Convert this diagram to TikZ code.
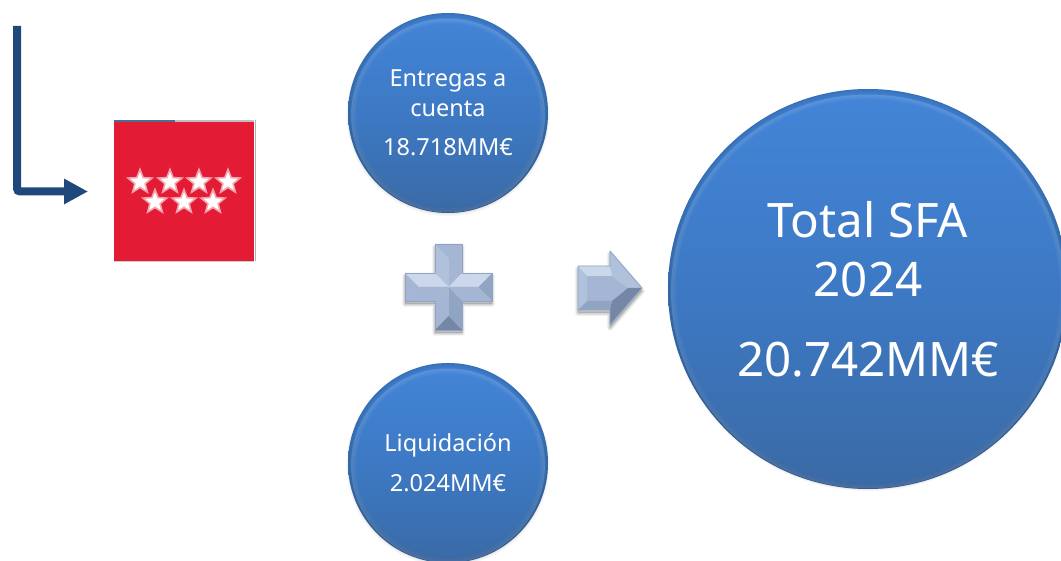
\documentclass[tikz,border=0pt]{standalone}
\usepackage{fontspec}
\setmainfont{Noto Sans}
\usetikzlibrary{shapes.geometric,arrows.meta,calc}
\definecolor{ballTop}{HTML}{4385D8}
\definecolor{ballMid}{HTML}{3D79C4}
\definecolor{ballBot}{HTML}{3A6AA6}
\definecolor{navy}{HTML}{1F497D}
\definecolor{redbox}{HTML}{E31B35}
\definecolor{facetA}{HTML}{CBD7EB}
\definecolor{facetB}{HTML}{B0C1DC}
\definecolor{facetC}{HTML}{A4B6D3}
\definecolor{facetD}{HTML}{90A4C4}
\definecolor{facetE}{HTML}{7487A7}
\tikzset{
  x=1pt,y=-1pt,
  ball/.style={circle,inner sep=0pt,text=white,align=center,top color=ballTop,bottom color=ballBot,middle color=ballMid},
  small ball/.style={ball,minimum size=200pt,font=\fontsize{23.5}{30}\selectfont},
  big ball/.style={ball,minimum size=400pt,font=\fontsize{47.5}{59}\selectfont},
  whitestar/.style={star,star points=5,star point ratio=2.3,fill=white,draw=white!60!redbox,line width=1.6pt,inner sep=0pt,minimum size=25pt},
  link/.style={draw=navy,line width=8pt,rounded corners=3pt,-{Triangle[length=24pt,width=24pt]}},
}
\newcommand{\softshadow}[3]{%
  \foreach \k in {1,...,6}{\fill[black,opacity=0.02] (#1,#2+1.5) circle (#3+1.5-\k*0.7);}}
\newcommand{\rimshade}[2]{%
  \foreach \k in {1,...,6}{\draw[black,opacity=0.022,line width=\k*1pt] (#1) circle ({#2-\k*0.5});}
  \foreach \k in {1,...,5}{\draw[white,opacity=0.03,line width=\k*1pt] ($(#1)+(0,2.5)$) circle ({#2-3-\k*0.5});}}
\newcommand{\shadowpoly}[1]{%
  \foreach \k in {1,...,5}{\draw[black,opacity=0.04,line width=\k*1.2pt,line join=round,fill=black,fill opacity=0.03] #1;}}
\begin{document}
\begin{tikzpicture}
\useasboundingbox (0,0) rectangle (1061,561);
\clip (0,0) rectangle (1061,561);
\fill[white] (0,0) rectangle (1061,561);

% Red square and stars
\node[fill=redbox,minimum width=140pt,minimum height=139pt,inner sep=0pt,anchor=north west] (flag) at (114,122) {};
\draw[navy!80,line width=1.2pt] (flag.north west)++(0,-1) -- ++(61,0);
\draw[black!25,line width=1.2pt] (flag.north west)++(61,-1) -- ++(79,0);
\draw[black!30,line width=1.5pt] (flag.north east)++(1,-2) -- ++(0,141);
\draw[black!20,line width=.8pt] (flag.south west)++(0,.5) -- ++(140,0);
\node[whitestar] (s1) at (140,182) {};
\node[whitestar] (s2) at (170,182) {};
\node[whitestar] (s3) at (199,182) {};
\node[whitestar] (s4) at (228,182) {};
\node[whitestar] (s5) at (155,202) {};
\node[whitestar] (s6) at (184,202) {};
\node[whitestar] (s7) at (213,202) {};

% Connector
\coordinate (linkStart) at (17,26);
\coordinate (linkCorner) at (17,191.5);
\coordinate (linkEnd) at (88,191.5);
\draw[link] (linkStart) -- (linkCorner) -- (linkEnd);

% Balls
\softshadow{448}{113}{101}
\softshadow{448}{463}{101}
\softshadow{868}{289}{200}
\node[small ball] (entregas) at (448,113) {Entregas a\\cuenta\\[9pt]18.718MM€};
\node[small ball] (liquidacion) at (448,463) {Liquidación\\[10pt]2.024MM€};
\node[big ball] (total) at (868,289) {Total SFA\\2024\\[21pt]20.742MM€};
\rimshade{entregas.center}{100}
\rimshade{liquidacion.center}{100}
\rimshade{total.center}{200}

% Plus
\shadowpoly{(405,276)--(435,276)--(435,247)--(462,247)--(462,276)--(492,276)--(492,304)--(462,304)--(462,333)--(435,333)--(435,304)--(405,304)--cycle}
\fill[facetB] (435,244)--(448.5,258)--(448.5,287)--(435,273)--cycle;
\fill[facetC] (462,244)--(448.5,258)--(448.5,287)--(462,273)--cycle;
\fill[facetC] (435,244)--(462,244)--(448.5,258)--cycle;
\fill[facetC] (405,273)--(405,301)--(419,287)--cycle;
\fill[facetA] (405,273)--(435,273)--(448.5,287)--(419,287)--cycle;
\fill[facetC] (405,301)--(435,301)--(448.5,287)--(419,287)--cycle;
\fill[facetD] (492,273)--(492,301)--(478,287)--cycle;
\fill[facetA] (492,273)--(462,273)--(448.5,287)--(478,287)--cycle;
\fill[facetC] (492,301)--(462,301)--(448.5,287)--(478,287)--cycle;
\fill[facetC] (435,301)--(448.5,287)--(448.5,316)--(435,330)--cycle;
\fill[facetD] (462,301)--(448.5,287)--(448.5,316)--(462,330)--cycle;
\fill[facetE] (435,330)--(462,330)--(448.5,316)--cycle;
\draw[facetD,line width=.8pt,line join=round] (405,273)--(435,273)--(435,244)--(462,244)--(462,273)--(492,273)--(492,301)--(462,301)--(462,330)--(435,330)--(435,301)--(405,301)--cycle;

% Arrow
\shadowpoly{(578,269)--(610,269)--(610,254)--(642,291)--(610,328)--(610,313)--(578,313)--cycle}
\fill[facetC] (587,276)--(612,276)--(628,288)--(612,301)--(587,301)--cycle;
\fill[facetA] (578,266)--(610,266)--(612,276)--(587,276)--cycle;
\fill[facetB] (578,266)--(587,276)--(587,301)--(578,310)--cycle;
\fill[facetD] (578,310)--(610,310)--(612,301)--(587,301)--cycle;
\fill[facetB] (610,251)--(642,288)--(628,288)--(612,276)--(610,266)--cycle;
\fill[facetE] (610,325)--(642,288)--(628,288)--(612,301)--(610,310)--cycle;
\draw[facetD,line width=.8pt,line join=round] (578,266)--(610,266)--(610,251)--(642,288)--(610,325)--(610,310)--(578,310)--cycle;
\end{tikzpicture}
\end{document}
